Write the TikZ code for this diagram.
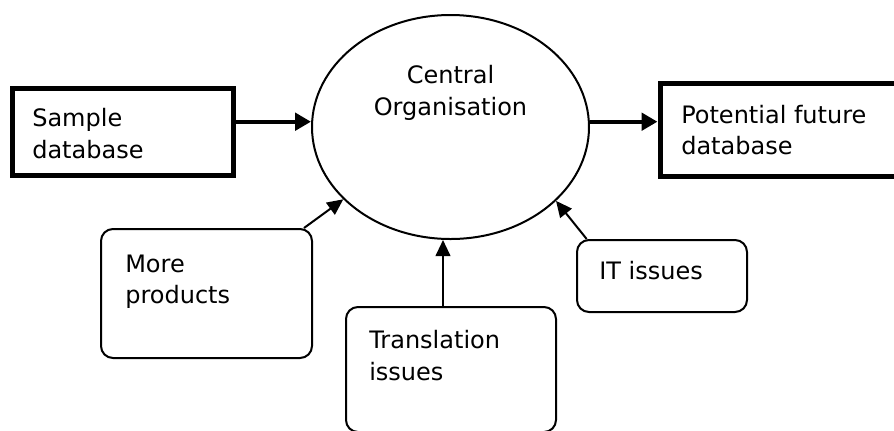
\documentclass[tikz,border=0pt]{standalone}
\usepackage{fontspec}
\setmainfont{DejaVu Sans}
\usetikzlibrary{arrows.meta,shapes.geometric}

\begin{document}
\begin{tikzpicture}[x=0.75pt,y=-0.75pt,
    dbbox/.style={draw, line width=3.75pt, inner sep=0pt},
    issuebox/.style={draw, line width=1.5pt, rounded corners=9pt, inner sep=0pt},
    orgellipse/.style={draw, ellipse, line width=1.5pt, inner sep=0pt},
    boxtext/.style={font=\fontsize{18}{23.7}\selectfont, align=left, inner sep=0pt, anchor=west},
    bigflow/.style={line width=3pt, -{Triangle[length=12pt,width=13pt]}},
    smallflow/.style={line width=1.5pt, -{Triangle[length=12pt,width=11pt]}}]
    \useasboundingbox (0,0) rectangle (894,430);
    \clip (0,0) rectangle (894,430);

    % Central ellipse
    \node[orgellipse, minimum width=207.75pt, minimum height=168pt] (central) at (450.5,127) {};
    \node[boxtext, anchor=center, align=center] (centraltext) at (450.5,92.8) {Central\\Organisation};

    % Databases
    \node[dbbox, minimum width=165.75pt, minimum height=65.25pt] (sample) at (122.5,131.5) {};
    \node[boxtext] (sampletext) at (32,133.5) {Sample\\database};
    \node[dbbox, minimum width=195pt, minimum height=69.75pt] (future) at (790,129.5) {};
    \node[boxtext] (futuretext) at (681,130) {Potential future\\database};

    % Issues
    \node[issuebox, minimum width=158.25pt, minimum height=96.75pt] (more) at (206.5,293.5) {};
    \node[boxtext] (moretext) at (125,281.7) {More\\products};
    \node[issuebox, minimum width=157.5pt, minimum height=93.75pt] (trans) at (451,369.5) {};
    \node[boxtext] (transtext) at (369,355.5) {Translation\\issues};
    \node[issuebox, minimum width=127.5pt, minimum height=54pt] (it) at (662,276) {};
    \node[boxtext] (ittext) at (599,270.4) {IT issues};

    % Flows
    \draw[bigflow] (sample.east |- 0,121.7) -- (central.west |- 0,121.7);
    \draw[bigflow] (central.east |- 0,121.7) -- (future.west |- 0,121.7);
    \draw[smallflow] ([xshift=-6.75pt]more.north east) -- (central.214);
    \draw[smallflow] ([xshift=-6pt]trans.north) -- ([xshift=-6pt]trans.north |- central.south);
    \draw[smallflow] ([xshift=8pt]it.north west) -- (central.325);
\end{tikzpicture}
\end{document}
